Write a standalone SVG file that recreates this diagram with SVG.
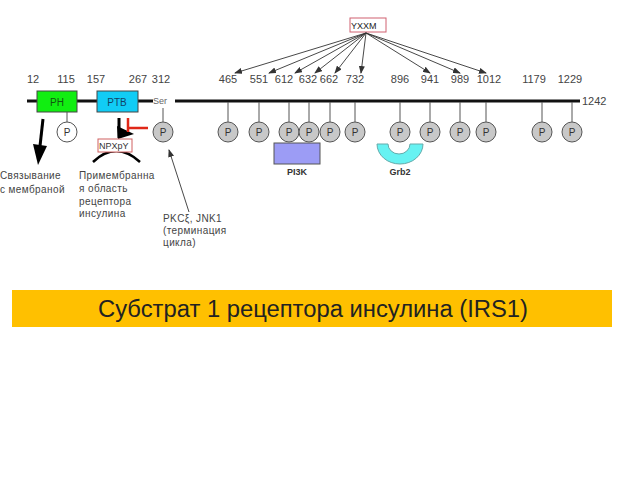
<svg xmlns="http://www.w3.org/2000/svg" width="640" height="480" viewBox="0 0 640 480">
<defs>
<marker id="ah" markerWidth="8" markerHeight="6" refX="7" refY="3" orient="auto" markerUnits="userSpaceOnUse"><path d="M0,0 L8,3 L0,6 Z" fill="#333"/></marker>
<style>
.num{font-family:"Liberation Sans",Arial,sans-serif;font-size:11px;fill:#444;text-anchor:middle}
.lbl{font-family:"Liberation Sans",Arial,sans-serif;font-size:10px;fill:#444;letter-spacing:0.4px}
.p{fill:#c8c8c8;stroke:#555;stroke-width:1}
.pt{font-family:"Liberation Sans",Arial,sans-serif;font-size:10px;fill:#333;text-anchor:middle}
.stem{stroke:#555;stroke-width:1}
.yx{stroke:#333;stroke-width:0.9;fill:none;marker-end:url(#ah)}
</style>
</defs>
<rect width="640" height="480" fill="#fff"/>

<g id="backbone">
<line x1="27" y1="101" x2="153" y2="101" stroke="#111" stroke-width="3"/>
<line x1="175" y1="101" x2="580" y2="101" stroke="#111" stroke-width="3"/>
<text x="582" y="105" class="num" style="text-anchor:start">1242</text>
<text x="153" y="104" font-family="Liberation Sans, Arial, sans-serif" font-size="9" fill="#666">Ser</text>
</g>

<g id="PH">
<rect x="37" y="91" width="40" height="21" fill="#11ee11" stroke="#444" stroke-width="1"/>
<text x="57" y="106" font-family="Liberation Sans, Arial, sans-serif" font-size="10" fill="#115511" text-anchor="middle">PH</text>
</g>
<g id="PTB">
<rect x="97" y="91" width="41" height="21" fill="#11ccf5" stroke="#444" stroke-width="1"/>
<text x="117" y="106" font-family="Liberation Sans, Arial, sans-serif" font-size="10" fill="#114466" text-anchor="middle">PTB</text>
</g>

<g id="numbers">
<text x="33" y="83" class="num">12</text>
<text x="66" y="83" class="num">115</text>
<text x="96" y="83" class="num">157</text>
<text x="138" y="83" class="num">267</text>
<text x="161" y="83" class="num">312</text>
<text x="228" y="83" class="num">465</text>
<text x="259" y="83" class="num">551</text>
<text x="284" y="83" class="num">612</text>
<text x="308" y="83" class="num">632</text>
<text x="329" y="83" class="num">662</text>
<text x="355" y="83" class="num">732</text>
<text x="400" y="83" class="num">896</text>
<text x="430" y="83" class="num">941</text>
<text x="460" y="83" class="num">989</text>
<text x="489" y="83" class="num">1012</text>
<text x="534" y="83" class="num">1179</text>
<text x="570" y="83" class="num">1229</text>
</g>

<g id="YXXM">
<rect x="350" y="18" width="36" height="14" fill="#fff" stroke="#d06070" stroke-width="1"/>
<text x="351" y="29" font-family="Liberation Sans, Arial, sans-serif" font-size="9" fill="#222">YXXM</text>
</g>

<g id="connectors">
<line x1="366" y1="33" x2="235" y2="73" class="yx"/>
<line x1="366" y1="33" x2="269" y2="73" class="yx"/>
<line x1="366" y1="33" x2="295" y2="73" class="yx"/>
<line x1="366" y1="33" x2="315" y2="73" class="yx"/>
<line x1="366" y1="33" x2="335" y2="73" class="yx"/>
<line x1="366" y1="33" x2="361" y2="73" class="yx"/>
<line x1="366" y1="33" x2="430" y2="73" class="yx"/>
<line x1="366" y1="33" x2="460" y2="73" class="yx"/>
<line x1="366" y1="33" x2="486" y2="73" class="yx"/>
<line x1="189" y1="212" x2="169" y2="150" class="yx"/>
<line x1="67" y1="112" x2="67" y2="122" class="stem"/>
<line x1="163" y1="108" x2="163" y2="122" class="stem"/>
<line x1="228" y1="102" x2="228" y2="122" class="stem"/>
<line x1="259" y1="102" x2="259" y2="122" class="stem"/>
<line x1="289" y1="102" x2="289" y2="122" class="stem"/>
<line x1="309" y1="102" x2="309" y2="122" class="stem"/>
<line x1="330" y1="102" x2="330" y2="122" class="stem"/>
<line x1="355" y1="102" x2="355" y2="122" class="stem"/>
<line x1="400" y1="102" x2="400" y2="122" class="stem"/>
<line x1="430" y1="102" x2="430" y2="122" class="stem"/>
<line x1="460" y1="102" x2="460" y2="122" class="stem"/>
<line x1="486" y1="102" x2="486" y2="122" class="stem"/>
<line x1="542" y1="102" x2="542" y2="122" class="stem"/>
<line x1="572" y1="102" x2="572" y2="122" class="stem"/>
<line x1="43" y1="119" x2="40" y2="146" stroke="#000" stroke-width="3"/>
<polygon points="33,144 47,146 38,165" fill="#000"/>
<line x1="119" y1="118" x2="119" y2="138" stroke="#000" stroke-width="3"/>
<polygon points="117,126 134,134 118,139" fill="#000"/>
<path d="M128,118 V132 M128,128 H148" stroke="#e02818" stroke-width="2.5" fill="none"/>
<path d="M93,162 Q116,140 140,162" stroke="#000" stroke-width="2.5" fill="none"/>
</g>

<g id="phospho">
<circle cx="67" cy="132" r="10" fill="#fff" stroke="#555"/><text x="67" y="135.5" class="pt">P</text>
<circle cx="163" cy="132" r="10" class="p"/><text x="163" y="135.5" class="pt">P</text>
<circle cx="228" cy="132" r="10" class="p"/><text x="228" y="135.5" class="pt">P</text>
<circle cx="259" cy="132" r="10" class="p"/><text x="259" y="135.5" class="pt">P</text>
<circle cx="289" cy="132" r="10" class="p"/><text x="289" y="135.5" class="pt">P</text>
<circle cx="309" cy="132" r="10" class="p"/><text x="309" y="135.5" class="pt">P</text>
<circle cx="330" cy="132" r="10" class="p"/><text x="330" y="135.5" class="pt">P</text>
<circle cx="355" cy="132" r="10" class="p"/><text x="355" y="135.5" class="pt">P</text>
<circle cx="400" cy="132" r="10" class="p"/><text x="400" y="135.5" class="pt">P</text>
<circle cx="430" cy="132" r="10" class="p"/><text x="430" y="135.5" class="pt">P</text>
<circle cx="460" cy="132" r="10" class="p"/><text x="460" y="135.5" class="pt">P</text>
<circle cx="486" cy="132" r="10" class="p"/><text x="486" y="135.5" class="pt">P</text>
<circle cx="542" cy="132" r="10" class="p"/><text x="542" y="135.5" class="pt">P</text>
<circle cx="572" cy="132" r="10" class="p"/><text x="572" y="135.5" class="pt">P</text>
</g>

<g id="NPXpY">
<rect x="98" y="139" width="34" height="13" fill="#fff" stroke="#d06060" stroke-width="1"/>
<text x="99" y="149" font-family="Liberation Sans, Arial, sans-serif" font-size="9" fill="#333">NPXpY</text>
</g>

<g id="PI3K">
<rect x="274" y="143" width="46" height="21" fill="#9c9cf5" stroke="#555" stroke-width="1"/>
<text x="297" y="175" font-family="Liberation Sans, Arial, sans-serif" font-size="9" font-weight="bold" fill="#333" text-anchor="middle">PI3K</text>
</g>

<g id="Grb2">
<path d="M377,144 L388,144 A11,10 0 0 0 410,144 L423,144 A23,20 0 0 1 377,144 Z" fill="#66f2f2" stroke="#6aa" stroke-width="1"/>
<text x="400" y="175" font-family="Liberation Sans, Arial, sans-serif" font-size="9" font-weight="bold" fill="#333" text-anchor="middle">Grb2</text>
</g>

<g id="labels">
<text class="lbl"><tspan x="0" y="179">Связывание</tspan><tspan x="0" y="193">с мембраной</tspan></text>
<text class="lbl"><tspan x="79" y="179">Примембранна</tspan><tspan x="79" y="192">я область</tspan><tspan x="79" y="205">рецептора</tspan><tspan x="79" y="217">инсулина</tspan></text>
<text class="lbl"><tspan x="163" y="222">PKCξ, JNK1</tspan><tspan x="163" y="234">(терминация</tspan><tspan x="163" y="246">цикла)</tspan></text>
</g>

<g id="title">
<rect x="12" y="290" width="600" height="37" fill="#ffc000"/>
<text x="98" y="317" font-family="Liberation Sans, Arial, sans-serif" font-size="23" fill="#222" textLength="430" lengthAdjust="spacingAndGlyphs">Субстрат 1 рецептора инсулина (IRS1)</text>
</g>
</svg>
